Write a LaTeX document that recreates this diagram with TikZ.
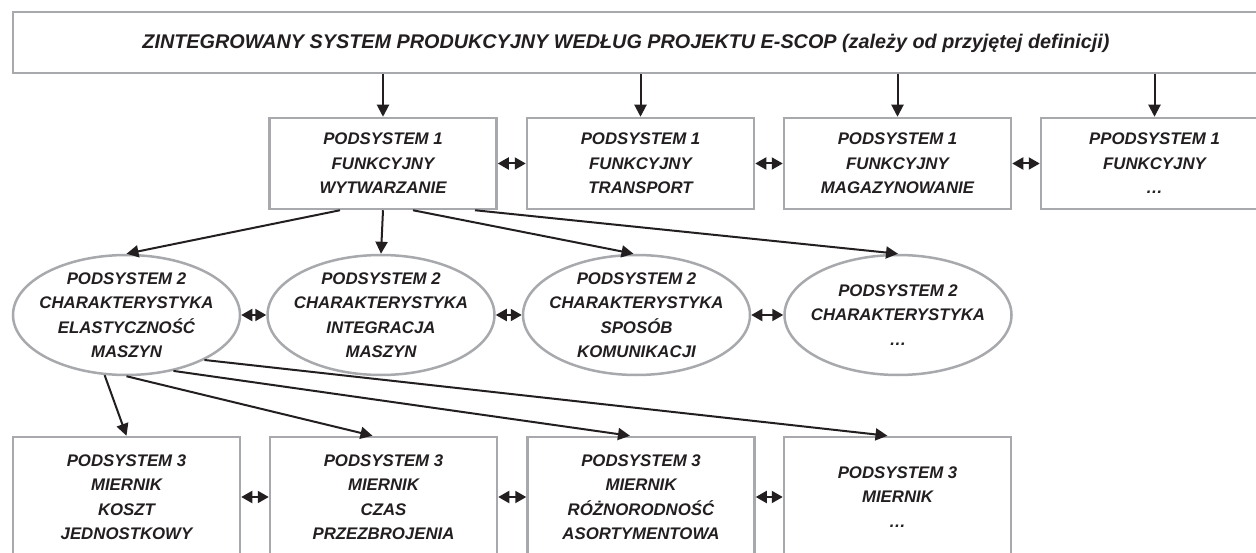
\documentclass[tikz,border=0pt]{standalone}
\usepackage{fontspec}
\setmainfont{Liberation Sans}
\usetikzlibrary{shapes.geometric,arrows.meta,calc}
\definecolor{ink}{HTML}{231F20}
\definecolor{frame}{HTML}{A7A9AC}
\begin{document}
\begin{tikzpicture}[x=1pt,y=-1pt,
  label text/.style={text=ink,align=center,font=\fontsize{16.8}{24.5}\selectfont\bfseries\itshape},
  rectbox/.style={label text,draw=frame,line width=2.5pt,minimum width=227pt,minimum height=91pt,inner sep=0pt},
  lowbox/.style={rectbox,minimum height=120pt},
  oval/.style={label text,ellipse,draw=frame,line width=2.5pt,minimum width=227pt,minimum height=120pt,inner xsep=-14pt,inner ysep=-10pt},
  title text/.style={text=ink,font=\fontsize{19.8}{22}\selectfont\bfseries\itshape,inner sep=0pt},
  arr/.style={draw=ink,line width=2pt,-{Triangle[length=12pt,width=12pt]}},
  dbl/.style={draw=ink,line width=2pt,{Triangle[length=11pt,width=12pt]}-{Triangle[length=11pt,width=12pt]}}
]
\useasboundingbox (0,0) rectangle (1256,553);
\fill[white] (0,0) rectangle (1256,553);
\clip (0,0) rectangle (1256,553);

% overall system
\node[rectbox,minimum width=1257pt,minimum height=61pt] (top) at (641.5,42.5) {};
\node[title text] (title) at (626,43)
  {ZINTEGROWANY SYSTEM PRODUKCYJNY WEDŁUG PROJEKTU E-SCOP (zależy od przyjętej definicji)};

% level 1: functional subsystems
\node[rectbox] (f1) at (383,163.5) {PODSYSTEM 1\\FUNKCYJNY\\WYTWARZANIE};
\node[rectbox] (f2) at (640.5,163.5) {PODSYSTEM 1\\FUNKCYJNY\\TRANSPORT};
\node[rectbox] (f3) at (897.5,163.5) {PODSYSTEM 1\\FUNKCYJNY\\MAGAZYNOWANIE};
\node[rectbox] (f4) at (1154.5,163.5) {PPODSYSTEM 1\\FUNKCYJNY\\\dots};

% level 2: characteristics
\node[oval] (c1) at (126.5,315) {PODSYSTEM 2\\CHARAKTERYSTYKA\\ELASTYCZNOŚĆ\\MASZYN};
\node[oval] (c2) at (381,315) {PODSYSTEM 2\\CHARAKTERYSTYKA\\INTEGRACJA\\MASZYN};
\node[oval] (c3) at (636.5,315) {PODSYSTEM 2\\CHARAKTERYSTYKA\\SPOSÓB\\KOMUNIKACJI};
\node[oval] (c4) at (898,315) {PODSYSTEM 2\\CHARAKTERYSTYKA\\\dots};

% level 3: measures
\node[lowbox] (m1) at (126.5,497) {PODSYSTEM 3\\MIERNIK\\KOSZT\\JEDNOSTKOWY};
\node[lowbox] (m2) at (383.5,497) {PODSYSTEM 3\\MIERNIK\\CZAS\\PRZEZBROJENIA};
\node[lowbox] (m3) at (641,497) {PODSYSTEM 3\\MIERNIK\\RÓŻNORODNOŚĆ\\ASORTYMENTOWA};
\node[lowbox] (m4) at (897.5,497) {PODSYSTEM 3\\MIERNIK\\\dots};

% system -> functional subsystems
\foreach \n in {f1,f2,f3,f4}
  \draw[arr] (top.south -| \n.north) -- (\n.north);

% production subsystem -> characteristics
\draw[arr] ($(f1.south)+(-43,0)$) -- (c1.north);
\draw[arr] (f1.south) -- (c2.north);
\draw[arr] ($(f1.south)+(30,0)$) -- ($(c3.north)+(-3,0)$);
\draw[arr] ($(f1.south)+(92,0)$) -- (c4.north);

% machine flexibility -> measures
\draw[arr] (c1.250) -- (m1.north);
\draw[arr] (c1.south) -- ($(m2.north)+(-11,0)$);
\draw[arr] (c1.310) -- ($(m3.north)+(-11,0)$);
\draw[arr] (c1.330) -- ($(m4.north)+(-10,0)$);

% links between neighbours
\draw[dbl] (f1.east) -- (f2.west);
\draw[dbl] (f2.east) -- (f3.west);
\draw[dbl] (f3.east) -- (f4.west);
\draw[dbl] (c1.east) -- (c2.west);
\draw[dbl] (c2.east) -- (c3.west);
\draw[dbl] (c3.east) -- (c4.west);
\draw[dbl] (m1.east) -- (m2.west);
\draw[dbl] (m2.east) -- (m3.west);
\draw[dbl] (m3.east) -- (m4.west);
\end{tikzpicture}
\end{document}
